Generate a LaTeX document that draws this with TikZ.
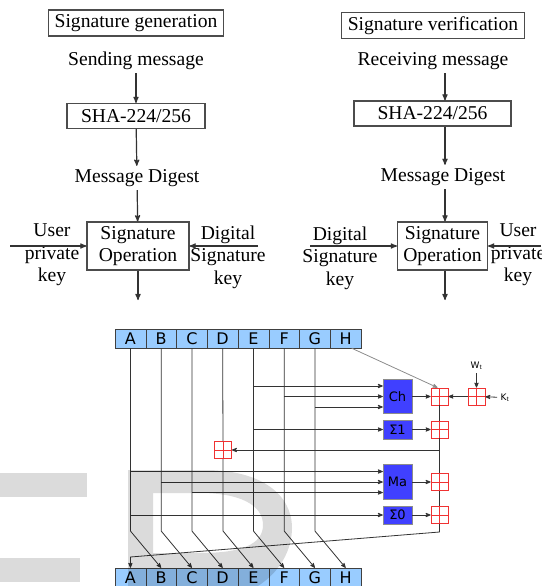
\documentclass[tikz,border=0pt]{standalone}
\usepackage{fontspec}
\setmainfont{Liberation Serif}
\setsansfont{DejaVu Sans}
\usetikzlibrary{arrows,positioning}
\definecolor{regblue}{RGB}{153,204,255}
\definecolor{fnblue}{RGB}{64,64,255}
\definecolor{addred}{RGB}{240,50,50}
\tikzset{
  titlebox/.style={draw=black!70,line width=1.3pt,minimum height=26pt,inner xsep=6pt},
  procbox/.style={draw=black!70,line width=1.1pt,minimum height=25pt},
  opbox/.style={draw=black!70,line width=1.1pt,align=center,minimum height=48pt,inner sep=1pt},
  keylabel/.style={align=center},
  flow/.style={->,draw=black!80,line width=1.2pt},
  reg/.style={draw=black!75,fill=regblue,minimum width=30.75pt,minimum height=19pt,inner sep=0pt,
    font=\sffamily\fontsize{16}{16}\selectfont},
  fnbox/.style={draw=black!45,fill=fnblue,minimum width=29pt,inner sep=0pt,
    font=\sffamily\fontsize{13}{13}\selectfont},
  adder/.style={draw=addred,line width=0.8pt,minimum size=17pt,inner sep=0pt,
    path picture={\draw[addred,line width=0.8pt]
      (path picture bounding box.north) -- (path picture bounding box.south)
      (path picture bounding box.west) -- (path picture bounding box.east);}},
  wire/.style={draw=black!80,line width=0.8pt},
  wmark/.style={fill=black,opacity=0.14}
}

\begin{document}
\begin{tikzpicture}[x=1pt,y=-1pt,>=stealth',font=\fontsize{19.6}{22.5}\selectfont]
        \useasboundingbox (0,0) rectangle (541,586);
        % signing side
        \node[titlebox] (gen) at (136,23) {Signature generation};
        \node (send) at (136,61) {Sending message};
        \node[procbox,minimum width=138pt] (shaL) at (136,116) {SHA-224/256};
        \node (digL) at (137,178) {Message Digest};
        \node[opbox,minimum width=102pt] (opL) at (138,246) {Signature\\Operation};
        \node[keylabel] (privL) at (52,255) {User\\private\\key};
        \node[keylabel] (pubL) at (228,257) {Digital\\Signature\\key};
        \coordinate (inL) at (10,246);
        \coordinate (inLr) at (258,246);
        \coordinate (outL) at (138,300);
        \draw[flow] (send) -- (shaL);
        \draw[flow] (shaL) -- (digL);
        \draw[flow] (digL) -- (opL);
        \draw[flow] (inL) -- (opL.west);
        \draw[flow] (inLr) -- (opL.east);
        \draw[flow] (opL) -- (outL);
        % verifying side
        \coordinate (rx) at (445,0);
        \node[titlebox] (ver) at (433,25.5) {Signature verification};
        \node (recv) at (433,61) {Receiving message};
        \node[procbox,minimum width=157pt] (shaR) at (432.5,113.5) {SHA-224/256};
        \node (digR) at (443,177) {Message Digest};
        \node[opbox,minimum width=90pt] (opR) at (442.5,246) {Signature\\Operation};
        \node[keylabel] (pubR) at (340,258) {Digital\\Signature\\key};
        \node[keylabel] (privR) at (518,255) {User\\private\\key};
        \coordinate (inR) at (310,246);
        \coordinate (inRr) at (541,246);
        \coordinate (outR) at (445,300);
        \draw[flow] (recv.south -| rx) -- (shaR.north -| rx);
        \draw[flow] (shaR.south -| rx) -- (digR.north -| rx);
        \draw[flow] (digR.south -| rx) -- (opR.north -| rx);
        \draw[flow] (inR) -- (opR.west);
        \draw[flow] (inRr) -- (opR.east);
        \draw[flow] (opR.south -| rx) -- (outR);
        % one round of the compression function
        \foreach \l [count=\i from 0] in {A,B,C,D,E,F,G,H} {
          \node[reg] (t\l) at ({130.4+30.75*\i},338.5) {\l};
          \node[reg] (b\l) at ({130.4+30.75*\i},577.5) {\l};
        }
        \node[fnbox,minimum height=34pt] (ch) at (397.5,396.5) {Ch};
        \node[fnbox,minimum height=19pt] (s1) at (397.5,429.5) {Σ1};
        \node[fnbox,minimum height=35pt] (ma) at (397.5,482) {Ma};
        \node[fnbox,minimum height=18pt] (s0) at (397.5,515) {Σ0};
        \node[adder] (add1) at (439.5,396.5) {};
        \node[adder] (add2) at (439.5,429.5) {};
        \node[adder] (add3) at (439.5,482) {};
        \node[adder] (add4) at (439.5,515) {};
        \node[adder] (addK) at (476.5,396.5) {};
        \node[adder] (addD) at (223,450) {};
        \node[font=\sffamily\fontsize{9}{9}\selectfont] (wt) at (476.5,366) {W\textsubscript{t}};
        \node[font=\sffamily\fontsize{9}{9}\selectfont] (kt) at (505,397.5) {K\textsubscript{t}};
        \coordinate (kink) at (0,531);
        \coordinate (tail) at (0,532);
        \coordinate (head) at (0,557);
        \path ([yshift=10.5pt]ch.west) coordinate (ch1) (ch.west) coordinate (ch2)
              ([yshift=-10.5pt]ch.west) coordinate (ch3);
        \path ([yshift=10.5pt]ma.west) coordinate (ma1) (ma.west) coordinate (ma2)
              ([yshift=-10.5pt]ma.west) coordinate (ma3);
        \foreach \s/\t in {A/B,B/C,C/D,E/F,F/G,G/H}
          \draw[wire,->] (t\s.south) -- (t\s |- kink) -- (b\t.north);
        \draw[wire] (tD.south) -- (addD.north);
        \draw[wire,->] (addD.south) -- (addD |- kink) -- (bE.north);
        \draw[wire,black!45,->] ([xshift=6pt]tH.south) -- ([xshift=-2pt]add1.north);
        \draw[wire,->] (tE |- ch1) -- (ch1);
        \draw[wire,->] (tF |- ch2) -- (ch2);
        \draw[wire,->] (tG |- ch3) -- (ch3);
        \draw[wire,->] (tE |- s1) -- (s1.west);
        \draw[wire,->] (tA |- ma1) -- (ma1);
        \draw[wire,->] (tB |- ma2) -- (ma2);
        \draw[wire,->] (tC |- ma3) -- (ma3);
        \draw[wire,->] (tA |- s0) -- (s0.west);
        \draw[wire,->] (ch) -- (add1);
        \draw[wire,->] (s1) -- (add2);
        \draw[wire,->] (ma) -- (add3);
        \draw[wire,->] (s0) -- (add4);
        \draw[wire,->] (wt) -- (addK);
        \draw[wire,->] (kt) -- (addK);
        \draw[wire,->] (addK) -- (add1);
        \draw[wire] (add1) -- (add2) (add2) -- (add3) (add3) -- (add4);
        \draw[wire,->] (add2 |- addD) -- (addD);
        \draw[wire,->] (add4.south) -- (add4 |- tail) -- (bA |- head) -- (bA.north);
        % grey marks over the picture
        \begin{scope}
          \clip (0,0) rectangle (541,586);
          \fill[wmark] (0,473) rectangle (87,497);
          \fill[wmark] (0,558) rectangle (80,582);
          \fill[wmark,even odd rule]
            (128,470) -- (205,470) .. controls (262,470) and (292,495) .. (292,528)
            .. controls (292,562) and (262,600) .. (205,600) -- (128,600) -- cycle
            (153,493) -- (200,493) .. controls (240,493) and (263,505) .. (263,525)
            .. controls (263,545) and (240,553) .. (200,553) -- (153,553) -- cycle;
        \end{scope}
      \end{tikzpicture}
\end{document}
